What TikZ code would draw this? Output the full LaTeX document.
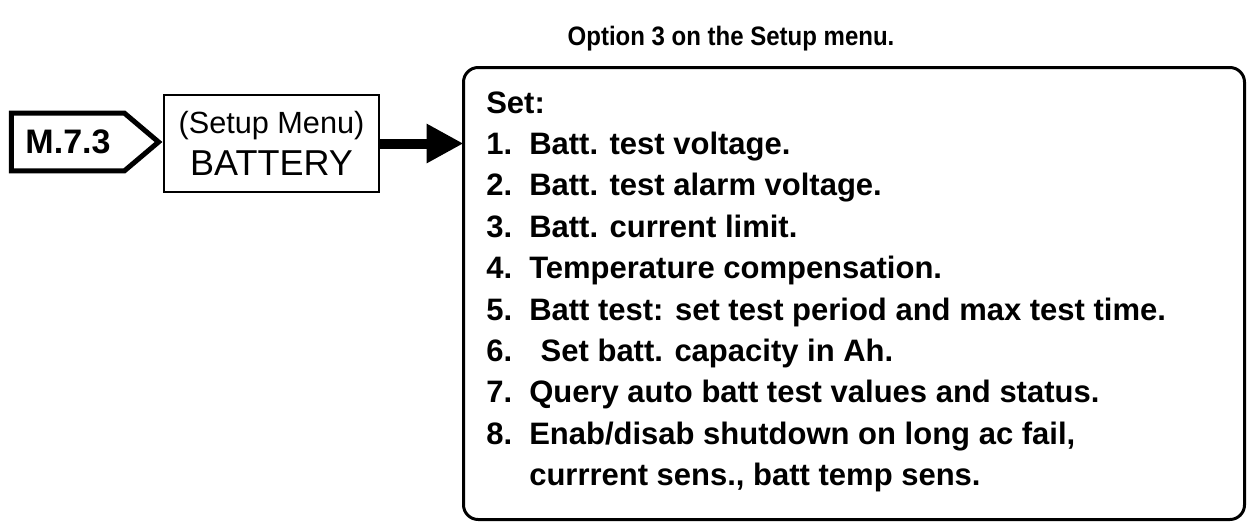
\documentclass[tikz,border=0pt]{standalone}
\usepackage{fontspec}
\setmainfont{Liberation Sans}
\usetikzlibrary{arrows.meta, positioning}

\begin{document}
\begin{tikzpicture}[
    x=0.75pt, y=-0.75pt,
    titletext/.style={font=\fontsize{20pt}{22pt}\selectfont\bfseries, inner sep=0pt},
    codelabel/.style={rectangle, minimum width=84.4pt, minimum height=42.75pt, inner sep=0pt, font=\fontsize{25.5pt}{28pt}\selectfont\bfseries},
    codeframe/.style={draw=black, line width=3.75pt, line join=miter},
    menubox/.style={rectangle, draw=black, line width=1.5pt, minimum width=161.25pt, minimum height=72.75pt, align=center, inner sep=0pt, outer sep=0pt, font=\fontsize{23pt}{27.75pt}\selectfont},
    listbox/.style={rectangle, draw=black, line width=2.25pt, rounded corners=11pt, minimum width=585.75pt, minimum height=339pt, outer sep=0pt},
    itemtext/.style={anchor=base west, inner sep=0pt, font=\fontsize{23.25pt}{31pt}\selectfont\bfseries},
    bigarrow/.style={-{Triangle[length=27.75pt, width=27.75pt]}, line width=7.5pt, draw=black}
  ]
    \useasboundingbox (0,0) rectangle (1247,522);

    % Heading
    \node[titletext, anchor=base] (title) at (731,45) {\scalebox{0.9}[1]{Option 3 on the Setup menu.}};

    % Menu path
    \node[codelabel] (code) at (68,142) {M.7.3};
    \draw[codeframe] (code.north west) -- (code.north east) -- ([xshift=25.5pt]code.east) -- (code.south east) -- (code.south west) -- cycle;
    \node[menubox] (setup) at (271.5,143.5) {(Setup Menu)\\[3.75pt]{\fontsize{27pt}{27.75pt}\selectfont BATTERY}};

    % Settings list
    \node[listbox] (options) at (854,293.5) {};
    \node[itemtext] (set) at (486,113) {Set:};
    \foreach \n/\t [count=\i] in {1/{Batt. test voltage.}, 2/{Batt. test alarm voltage.},
        3/{Batt. current limit.}, 4/{Temperature compensation.},
        5/{Batt test: set test period and max test time.}, 6/{\hspace{8.6pt}Set batt. capacity in Ah.},
        7/{Query auto batt test values and status.}, 8/{Enab/disab shutdown on long ac fail,}} {
      \node[itemtext] (num\i) at (486,{113+41.4*\i}) {\n.};
      \node[itemtext] (item\i) at (529,{113+41.4*\i}) {\t};
    }
    \node[itemtext] (item8b) at (529,{113+41.4*9}) {currrent sens., batt temp sens.};

    % Connection
    \draw[bigarrow] (setup.east) -- (setup.east -| options.west);

  \end{tikzpicture}
\end{document}
